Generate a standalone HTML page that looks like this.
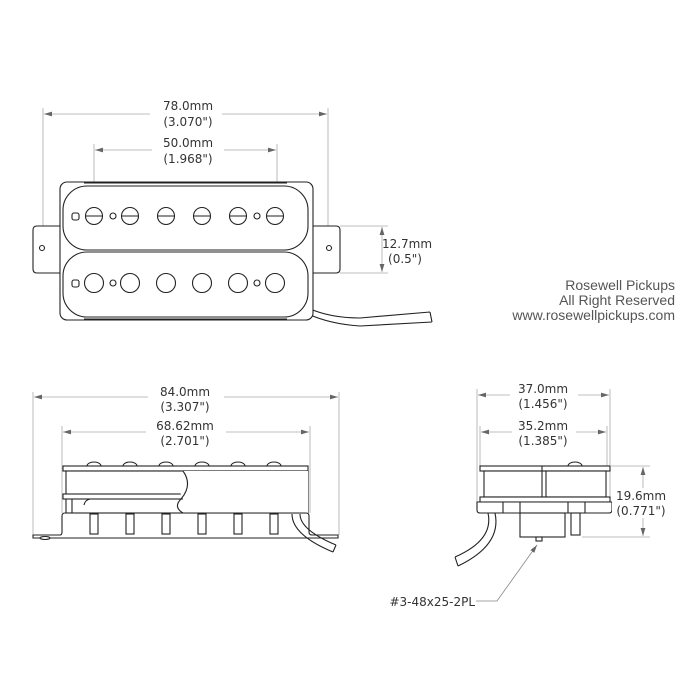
<!DOCTYPE html>
<html><head><meta charset="utf-8"><style>
html,body{margin:0;padding:0;background:#fff;width:700px;height:700px;overflow:hidden}
svg{display:block}
text{font-family:"DejaVu Sans","Liberation Sans",sans-serif;fill:#333;font-size:12px}
.d{stroke:#aaa;stroke-width:0.8;fill:none}
.k{stroke:#222;stroke-width:1.1;fill:#fff}
.kn{stroke:#222;stroke-width:1.1;fill:none}
</style></head><body>
<svg width="700" height="700" viewBox="0 0 700 700">
<defs>
<marker id="a" viewBox="0 0 10 6" refX="10" refY="3" markerWidth="10" markerHeight="6" orient="auto-start-reverse"><path d="M0,0 L10,3 L0,6 z" fill="#666"/></marker>
</defs>
<!-- TOP VIEW -->
<line class="d" x1="43" y1="108" x2="43" y2="252"/>
<line class="d" x1="328" y1="108" x2="328" y2="252"/>
<line class="d" x1="44" y1="114" x2="327" y2="114" marker-start="url(#a)" marker-end="url(#a)"/>
<rect x="150" y="100" width="72" height="30" fill="#fff"/>
<text x="188" y="110" text-anchor="middle">78.0mm</text>
<text x="188" y="126" text-anchor="middle">(3.070")</text>
<line class="d" x1="94" y1="144" x2="94" y2="218"/>
<line class="d" x1="277" y1="144" x2="277" y2="218"/>
<line class="d" x1="95" y1="150" x2="276" y2="150" marker-start="url(#a)" marker-end="url(#a)"/>
<rect x="152" y="136" width="72" height="30" fill="#fff"/>
<text x="188" y="147" text-anchor="middle">50.0mm</text>
<text x="188" y="163" text-anchor="middle">(1.968")</text>
<!-- ears -->
<path class="k" d="M63,226 H37 Q33,226 33,230 V269 Q33,273 37,273 H63 Z"/>
<path class="k" d="M308,226 H336 Q340,226 340,230 V269 Q340,273 336,273 H308 Z"/>
<circle class="k" cx="42" cy="248" r="2.5"/>
<circle class="k" cx="329" cy="248" r="2.5"/>
<!-- cable -->
<path class="kn" d="M308,308 Q330,318 360,318 L430,312 M308,314 Q330,324 360,326 L432,322 M430,312 L432,322"/>
<!-- cover -->
<rect class="k" x="60" y="182" width="253" height="138" rx="7"/>
<line class="kn" x1="84" y1="183" x2="287" y2="183"/>
<line class="kn" x1="84" y1="319" x2="287" y2="319"/>
<rect class="k" x="63" y="186" width="245" height="64" rx="24"/>
<rect class="k" x="63" y="252" width="245" height="65" rx="24"/>
<g class="k">
<rect x="72" y="213" width="7" height="7" rx="2"/>
<circle cx="94" cy="216" r="8.5"/><circle cx="130" cy="216" r="8.5"/><circle cx="166" cy="216" r="8.5"/>
<circle cx="202" cy="216" r="8.5"/><circle cx="238" cy="216" r="8.5"/><circle cx="275" cy="216" r="8.5"/>
<circle cx="113" cy="216" r="3"/><circle cx="257" cy="216" r="3"/>
<rect x="72" y="280" width="7" height="7" rx="2"/>
<circle cx="94" cy="283" r="9.5"/><circle cx="130" cy="283" r="9.5"/><circle cx="166" cy="283" r="9.5"/>
<circle cx="202" cy="283" r="9.5"/><circle cx="238" cy="283" r="9.5"/><circle cx="275" cy="283" r="9.5"/>
<circle cx="113" cy="283" r="3"/><circle cx="257" cy="283" r="3"/>
</g>
<g class="kn"><path d="M86,216H102M122,216H138M158,216H174M194,216H210M230,216H246M267,216H283"/></g>
<!-- 12.7 dim -->
<line class="d" x1="340" y1="226" x2="388" y2="226"/>
<line class="d" x1="340" y1="273" x2="388" y2="273"/>
<line class="d" x1="382" y1="227" x2="382" y2="272" marker-start="url(#a)" marker-end="url(#a)"/>
<text x="407" y="248" text-anchor="middle">12.7mm</text>
<text x="405" y="263" text-anchor="middle">(0.5")</text>
<!-- brand -->
<text x="675" y="290" text-anchor="end" style="font-family:'Liberation Sans',sans-serif;font-size:14px;fill:#555">Rosewell Pickups</text>
<text x="675" y="305" text-anchor="end" style="font-family:'Liberation Sans',sans-serif;font-size:14px;fill:#555">All Right Reserved</text>
<text x="675" y="320" text-anchor="end" style="font-family:'Liberation Sans',sans-serif;font-size:14px;fill:#555">www.rosewellpickups.com</text>

<!-- SIDE VIEW -->
<line class="d" x1="33" y1="392" x2="33" y2="535"/>
<line class="d" x1="339" y1="392" x2="339" y2="535"/>
<line class="d" x1="34" y1="397" x2="338" y2="397" marker-start="url(#a)" marker-end="url(#a)"/>
<rect x="148" y="384" width="76" height="30" fill="#fff"/>
<text x="185" y="396" text-anchor="middle">84.0mm</text>
<text x="185" y="411" text-anchor="middle">(3.307")</text>
<line class="d" x1="62" y1="426" x2="62" y2="513"/>
<line class="d" x1="310" y1="426" x2="310" y2="513"/>
<line class="d" x1="63" y1="432" x2="309" y2="432" marker-start="url(#a)" marker-end="url(#a)"/>
<rect x="146" y="419" width="80" height="30" fill="#fff"/>
<text x="185" y="430" text-anchor="middle">68.62mm</text>
<text x="185" y="445" text-anchor="middle">(2.701")</text>
<g class="k">
<path d="M87,466 a7,4 0 0 1 14,0Z"/><path d="M123,466 a7,4 0 0 1 14,0Z"/><path d="M159,466 a7,4 0 0 1 14,0Z"/>
<path d="M195,466 a7,4 0 0 1 14,0Z"/><path d="M231,466 a7,4 0 0 1 14,0Z"/><path d="M267,466 a7,4 0 0 1 14,0Z"/>
</g>
<rect class="k" x="63" y="466" width="245" height="5"/>
<rect class="k" x="66" y="471" width="242" height="42"/>
<rect class="k" x="63" y="494" width="120" height="5"/>
<path class="k" d="M183,471 q-8,14 0,28 q-8,14 0,14 H308 V471 Z" style="stroke:none"/>
<path class="kn" d="M183,471 q10,14 -2,28 q-8,8 2,14"/>
<path class="kn" d="M72,499 V513 M72,499 H90 Q85,500 84,505"/>
<!-- baseplate bracket -->
<path class="kn" d="M33,535 H60 Q62,535 62,532 V516 Q62,513 65,513 H306 Q309,513 309,516 V532 Q309,535 312,535 H338 V538 H33 Z"/>
<ellipse class="k" cx="45" cy="538" rx="5" ry="1.5"/>
<g class="k">
<rect x="90" y="514" width="8" height="20"/><rect x="126" y="514" width="8" height="20"/><rect x="162" y="514" width="8" height="20"/>
<rect x="198" y="514" width="8" height="20"/><rect x="234" y="514" width="8" height="20"/><rect x="270" y="514" width="8" height="20"/>
</g>
<path class="kn" d="M292,514 Q292,535 333,552 M300,514 Q300,530 336,545 M333,552 L336,545"/>

<!-- END VIEW -->
<line class="d" x1="477" y1="389" x2="477" y2="505"/>
<line class="d" x1="610" y1="389" x2="610" y2="505"/>
<line class="d" x1="478" y1="395" x2="609" y2="395" marker-start="url(#a)" marker-end="url(#a)"/>
<rect x="510" y="383" width="68" height="30" fill="#fff"/>
<text x="543" y="393" text-anchor="middle">37.0mm</text>
<text x="543" y="408" text-anchor="middle">(1.456")</text>
<line class="d" x1="480" y1="426" x2="480" y2="466"/>
<line class="d" x1="607" y1="426" x2="607" y2="466"/>
<line class="d" x1="481" y1="432" x2="606" y2="432" marker-start="url(#a)" marker-end="url(#a)"/>
<rect x="512" y="420" width="64" height="30" fill="#fff"/>
<text x="543" y="430" text-anchor="middle">35.2mm</text>
<text x="543" y="445" text-anchor="middle">(1.385")</text>
<path class="k" d="M568,466 a7,4 0 0 1 14,0Z"/>
<rect class="k" x="480" y="466" width="130" height="5"/>
<rect class="k" x="484" y="471" width="122" height="26"/>
<line class="kn" x1="542" y1="466" x2="542" y2="502"/>
<line class="kn" x1="546" y1="471" x2="546" y2="497"/>
<rect class="k" x="480" y="497" width="130" height="5"/>
<path class="k" d="M477,502 H612 V510 Q612,513 609,513 H480 Q477,513 477,510 Z"/>
<path class="kn" d="M503,502 V513 M520,502 V513 M568,502 V513 M585,502 V513"/>
<rect class="k" x="520" y="513" width="45" height="24"/>
<rect class="k" x="571" y="513" width="9" height="22"/>
<path class="kn" d="M488,513 Q494,540 455,557 M495,513 Q502,545 458,566 M455,557 L458,566"/>
<rect class="k" x="536" y="537" width="6" height="4"/>
<!-- 19.6 dim -->
<line class="d" x1="610" y1="466" x2="650" y2="466"/>
<line class="d" x1="582" y1="537" x2="650" y2="537"/>
<line class="d" x1="643" y1="467" x2="643" y2="536" marker-start="url(#a)" marker-end="url(#a)"/>
<rect x="612" y="488" width="64" height="30" fill="#fff"/>
<text x="641" y="500" text-anchor="middle">19.6mm</text>
<text x="641" y="515" text-anchor="middle">(0.771")</text>
<!-- leader -->
<path class="d" d="M476,601 H497 L537,545" marker-end="url(#a)" style="stroke:#888"/>
<text x="475" y="606" text-anchor="end">#3-48x25-2PL</text>
</svg>
</body></html>
